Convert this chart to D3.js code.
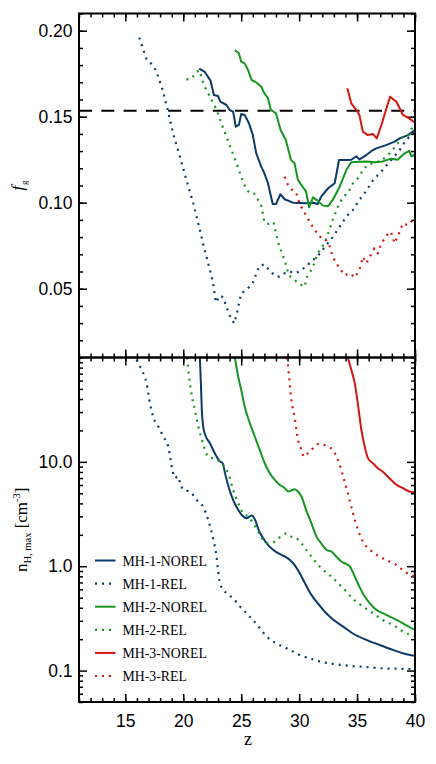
<!DOCTYPE html>
<html><head><meta charset="utf-8">
<script src="https://cdn.jsdelivr.net/npm/d3@7"></script>
<style>
html,body{margin:0;padding:0;background:#fff;}
svg{display:block;}
.tick text{font-family:"Liberation Sans",Arial,sans-serif;font-size:17.5px;fill:#000;}
</style></head>
<body><svg id="c" width="436" height="764"></svg>
<script>
// ---------------- data ----------------
const seriesNames = ["MH-1-NOREL","MH-1-REL","MH-2-NOREL","MH-2-REL","MH-3-NOREL","MH-3-REL"];
const seriesColors = ["#0b3a68","#0b3a68","#16951f","#16951f","#d1170f","#d1170f"];
const seriesDotted = [false,true,false,true,false,true];

// top panel: gas fraction f_g vs z  ([z, f_g])
const fg_MH1_NOREL = [[21.37,0.178],[21.86,0.176],[22.35,0.171],[22.64,0.1626],[23.0,0.162],[23.2,0.1587],[23.73,0.1568],[24.0,0.1539],[24.3,0.153],[24.53,0.1442],[24.8,0.1452],[25.0,0.1516],[25.3,0.151],[25.68,0.146],[26.0,0.1394],[26.3,0.1287],[26.73,0.121],[27.0,0.117],[27.3,0.1116],[27.72,0.0992],[28.0,0.0992],[28.38,0.1049],[28.75,0.102],[29.47,0.100],[30.6,0.0997],[31.2,0.100],[31.6,0.0992],[31.9,0.1035],[32.5,0.1084],[33.07,0.1113],[33.44,0.1248],[34.07,0.1248],[34.5,0.125],[34.93,0.127],[35.2,0.1252],[35.8,0.1277],[36.37,0.1306],[36.66,0.1316],[37.5,0.1335],[38.24,0.1355],[38.67,0.1374],[39.4,0.1393],[40.0,0.1423]];
const fg_MH1_REL = [[16.2,0.196],[16.83,0.1834],[17.1,0.182],[17.64,0.177],[18.2,0.166],[18.65,0.154],[19.13,0.140],[19.7,0.127],[20.28,0.113],[20.85,0.100],[21.37,0.086],[21.77,0.0744],[22.23,0.0628],[22.58,0.053],[22.81,0.042],[23.16,0.046],[23.44,0.045],[23.96,0.035],[24.4,0.0298],[24.7,0.038],[25.0,0.0473],[25.4,0.049],[25.98,0.053],[26.55,0.063],[26.98,0.0642],[27.4,0.061],[27.9,0.0575],[28.3,0.057],[28.75,0.059],[29.2,0.060],[29.6,0.059],[30.05,0.060],[30.6,0.063],[31.2,0.0666],[31.8,0.0705],[32.35,0.0754],[32.9,0.080],[33.5,0.086],[34.08,0.092],[34.65,0.0958],[35.2,0.1016],[35.8,0.107],[36.37,0.113],[37.2,0.119],[38.1,0.126],[38.67,0.1306],[39.25,0.1365],[39.8,0.140],[40.0,0.141]];
const fg_MH2_NOREL = [[24.45,0.1888],[24.8,0.1869],[25.0,0.182],[25.3,0.181],[25.6,0.177],[25.9,0.1713],[26.3,0.170],[26.73,0.1674],[27.0,0.1636],[27.3,0.161],[27.55,0.154],[28.0,0.152],[28.4,0.1423],[28.85,0.1365],[29.3,0.1248],[29.6,0.123],[29.9,0.1132],[30.3,0.1093],[30.6,0.1064],[30.86,0.0973],[31.2,0.1031],[31.6,0.1012],[32.06,0.0983],[32.5,0.098],[32.9,0.1016],[33.5,0.1093],[34.07,0.119],[34.5,0.1235],[35.2,0.1238],[35.8,0.124],[36.5,0.1235],[37.2,0.124],[37.95,0.1256],[38.5,0.125],[39.1,0.1287],[39.5,0.1302],[39.7,0.127],[40.0,0.128]];
const fg_MH2_REL = [[20.28,0.1717],[20.7,0.172],[21.14,0.176],[21.4,0.177],[21.7,0.170],[22.0,0.1655],[22.43,0.160],[22.87,0.154],[23.3,0.146],[23.73,0.1384],[24.16,0.1306],[24.6,0.123],[25.0,0.115],[25.46,0.1074],[25.8,0.1055],[26.1,0.1055],[26.46,0.1016],[26.76,0.0977],[27.0,0.0884],[27.4,0.0876],[27.8,0.0886],[28.0,0.0822],[28.3,0.0744],[28.75,0.0665],[29.1,0.0579],[29.5,0.0555],[30.0,0.0531],[30.45,0.051],[30.7,0.057],[31.2,0.0628],[31.6,0.0706],[32.2,0.0764],[32.5,0.0822],[32.9,0.090],[33.35,0.0977],[33.8,0.1035],[34.2,0.1055],[34.65,0.1113],[35.2,0.1151],[35.5,0.119],[35.9,0.1219],[36.5,0.1235],[37.0,0.124],[37.5,0.1267],[37.95,0.1297],[38.5,0.1345],[38.96,0.1384],[39.4,0.139],[39.8,0.1442],[40.0,0.145]];
const fg_MH3_NOREL = [[34.16,0.1665],[34.5,0.1578],[34.93,0.154],[35.2,0.151],[35.5,0.1413],[35.9,0.1394],[36.37,0.140],[36.7,0.1374],[37.1,0.1452],[37.5,0.154],[37.85,0.1616],[38.4,0.1587],[38.96,0.151],[39.5,0.149],[40.0,0.1465]];
const fg_MH3_REL = [[28.75,0.1151],[29.04,0.1103],[29.4,0.1074],[29.76,0.1055],[30.05,0.0992],[30.5,0.0938],[30.9,0.089],[31.35,0.0841],[31.8,0.0802],[32.2,0.0793],[32.6,0.0754],[32.9,0.0686],[33.2,0.0648],[33.5,0.0619],[33.93,0.0578],[34.36,0.059],[34.8,0.0565],[35.2,0.0609],[35.5,0.0686],[35.8,0.0648],[36.1,0.0686],[36.5,0.0735],[36.8,0.0706],[37.1,0.0764],[37.5,0.0802],[37.75,0.0831],[37.95,0.0825],[38.24,0.0764],[38.5,0.0802],[38.96,0.088],[39.4,0.0869],[39.8,0.0899],[40.0,0.091]];

// bottom panel: n_H,max [cm^-3] vs z  ([z, n])
const nh_MH1_NOREL = [[21.4,120],[21.52,56.8],[21.6,31.5],[21.72,21.8],[21.95,17.5],[22.3,15.1],[22.72,12.1],[23.16,10.1],[23.4,9.7],[23.6,7.8],[23.9,5.81],[24.3,4.33],[24.74,3.47],[25.17,2.99],[25.45,2.88],[25.9,3.06],[26.2,2.78],[26.5,2.23],[26.9,1.85],[27.3,1.60],[27.75,1.44],[28.3,1.31],[28.76,1.24],[29.2,1.15],[29.6,1.03],[30.05,0.857],[30.5,0.687],[31.06,0.531],[31.6,0.442],[32.2,0.368],[32.9,0.310],[33.8,0.264],[34.6,0.228],[35.8,0.197],[36.95,0.176],[38.1,0.158],[39.1,0.145],[40.0,0.138]];
const nh_MH1_REL = [[15.97,95],[16.4,76.2],[16.83,56.8],[17.12,36.5],[17.4,27.2],[17.84,21.8],[18.27,17.5],[18.7,14.0],[19.1,8.0],[19.3,7.0],[19.5,7.3],[19.75,6.2],[20.0,5.4],[20.57,5.2],[21.14,4.33],[21.7,3.73],[22.15,2.78],[22.6,1.79],[22.87,1.24],[23.0,0.92],[23.16,0.687],[23.73,0.551],[24.3,0.493],[24.9,0.410],[25.45,0.355],[26.0,0.306],[26.6,0.255],[27.2,0.212],[27.75,0.190],[28.3,0.176],[28.9,0.164],[29.5,0.152],[30.05,0.141],[30.9,0.131],[31.8,0.122],[32.9,0.116],[34.36,0.111],[35.8,0.108],[37.2,0.105],[38.67,0.104],[39.8,0.103],[40.0,0.103]];
const nh_MH2_NOREL = [[24.45,100],[24.74,65.8],[25.0,49.0],[25.3,33.9],[25.74,23.5],[26.17,17.5],[26.6,13.0],[27.03,9.7],[27.47,7.78],[27.9,6.71],[28.3,6.03],[28.76,5.60],[29.05,5.20],[29.33,5.31],[29.6,5.47],[29.9,5.20],[30.2,4.66],[30.6,3.47],[31.06,2.58],[31.5,1.92],[31.9,1.66],[32.35,1.44],[32.8,1.38],[33.2,1.24],[33.64,1.11],[34.07,1.05],[34.36,1.0],[34.8,0.796],[35.2,0.638],[35.66,0.512],[36.1,0.442],[36.5,0.395],[37.2,0.355],[38.1,0.318],[38.96,0.284],[40.0,0.245]];
const nh_MH2_REL = [[20.34,100],[20.5,65.8],[20.7,45.5],[21.0,31.5],[21.3,21.8],[21.7,15.1],[22.15,11.2],[22.6,10.8],[23.0,10.4],[23.44,9.35],[23.87,7.78],[24.3,5.40],[24.74,4.02],[25.17,3.22],[25.6,2.99],[26.03,2.58],[26.46,2.15],[26.9,1.79],[27.3,1.66],[27.75,1.69],[28.2,1.85],[28.6,1.99],[28.9,2.07],[29.33,1.92],[29.76,1.85],[30.2,1.66],[30.6,1.44],[31.06,1.24],[31.5,1.07],[31.9,0.957],[32.5,0.845],[33.07,0.740],[33.8,0.615],[34.6,0.493],[35.5,0.410],[36.37,0.355],[37.2,0.306],[38.1,0.274],[38.96,0.237],[40.0,0.212]];
const nh_MH3_NOREL = [[34.2,100],[34.5,76.2],[34.8,56.8],[35.1,33.9],[35.37,20.3],[35.66,14.0],[35.95,10.8],[36.37,9.7],[36.8,8.69],[37.2,8.07],[37.8,6.97],[38.4,6.03],[38.96,5.60],[39.5,5.20],[40.0,5.11]];
const nh_MH3_REL = [[28.96,100],[29.13,65.8],[29.33,39.3],[29.6,27.2],[29.9,16.3],[30.2,13.0],[30.4,11.2],[30.77,12.1],[31.2,13.5],[31.6,14.8],[32.06,14.6],[32.5,14.0],[32.9,13.0],[33.36,10.4],[33.8,7.23],[34.2,5.01],[34.65,3.22],[35.08,2.23],[35.5,1.72],[36.1,1.44],[36.66,1.29],[37.5,1.15],[38.4,1.03],[39.1,0.889],[40.0,0.796]];

const fgSeries = [fg_MH1_NOREL,fg_MH1_REL,fg_MH2_NOREL,fg_MH2_REL,fg_MH3_NOREL,fg_MH3_REL];
const nhSeries = [nh_MH1_NOREL,nh_MH1_REL,nh_MH2_NOREL,nh_MH2_REL,nh_MH3_NOREL,nh_MH3_REL];

const baryonFraction = 0.1535;
const zTicksMajor = [15,20,25,30,35,40];
const fgTicksMajor = [0.05,0.10,0.15,0.20];
const nhTicksMajor = [0.1,1,10];
const nhTickLabels = ["0.1","1.0","10.0"];

// ---------------- layout ----------------
const L = 79, R = 415, T1 = 13.5, B1 = 357.5, T2 = 357.5, B2 = 702;
const svg = d3.select("#c");

const x = d3.scaleLinear().domain([11,40]).range([L,R]);
const y1 = d3.scaleLinear().domain([0.01,0.21]).range([B1,T1]);
const y2 = d3.scaleLog().domain([0.05,100]).range([B2,T2]);

const zMinor = d3.range(11,41,1);
const fgMinor = d3.range(1,22).map(d=>d/100);
const nhMinor = [];
[0.01,0.1,1,10].forEach(dec=>{for(let k=2;k<=9;k++){const v=+(dec*k).toPrecision(3); if(v>=0.05&&v<=100) nhMinor.push(v);}});

const defs = svg.append("defs");
defs.append("clipPath").attr("id","cp1").append("rect").attr("x",L).attr("y",T1).attr("width",R-L).attr("height",B1-T1);
defs.append("clipPath").attr("id","cp2").append("rect").attr("x",L).attr("y",T2).attr("width",R-L).attr("height",B2-T2);

function styleAxis(g){
  g.select(".domain").remove();
  g.selectAll(".tick line").attr("stroke","#000").attr("stroke-width",1.5);
}
function addAxis(axis, tx, ty){
  const g = svg.append("g").attr("transform",`translate(${tx},${ty})`).call(axis);
  styleAxis(g);
  return g;
}
const MAJ = -8, MIN = -4;

// top panel axes
addAxis(d3.axisLeft(y1).tickValues(fgMinor).tickSize(MIN).tickFormat(""), L, 0);
addAxis(d3.axisLeft(y1).tickValues(fgTicksMajor).tickSize(MAJ).tickPadding(6.5).tickFormat(d3.format(".2f")), L, 0);
addAxis(d3.axisRight(y1).tickValues(fgMinor).tickSize(MIN).tickFormat(""), R, 0);
addAxis(d3.axisRight(y1).tickValues(fgTicksMajor).tickSize(MAJ).tickFormat(""), R, 0);
addAxis(d3.axisTop(x).tickValues(zMinor).tickSize(MIN).tickFormat(""), 0, T1);
addAxis(d3.axisTop(x).tickValues(zTicksMajor).tickSize(MAJ).tickFormat(""), 0, T1);
addAxis(d3.axisBottom(x).tickValues(zMinor).tickSize(MIN).tickFormat(""), 0, B1);
addAxis(d3.axisBottom(x).tickValues(zTicksMajor).tickSize(MAJ).tickFormat(""), 0, B1);

// bottom panel axes
addAxis(d3.axisLeft(y2).tickValues(nhMinor).tickSize(MIN).tickFormat(""), L, 0);
addAxis(d3.axisLeft(y2).tickValues(nhTicksMajor).tickSize(MAJ).tickPadding(6.5).tickFormat((d,i)=>nhTickLabels[i]), L, 0);
addAxis(d3.axisRight(y2).tickValues(nhMinor).tickSize(MIN).tickFormat(""), R, 0);
addAxis(d3.axisRight(y2).tickValues(nhTicksMajor).tickSize(MAJ).tickFormat(""), R, 0);
addAxis(d3.axisTop(x).tickValues(zMinor).tickSize(MIN).tickFormat(""), 0, T2);
addAxis(d3.axisTop(x).tickValues(zTicksMajor).tickSize(MAJ).tickFormat(""), 0, T2);
addAxis(d3.axisBottom(x).tickValues(zMinor).tickSize(MIN).tickFormat(""), 0, B2);
addAxis(d3.axisBottom(x).tickValues(zTicksMajor).tickSize(MAJ).tickPadding(12.3).tickFormat(d3.format("d")), 0, B2);

// dashed baryon fraction line
svg.append("line").attr("clip-path","url(#cp1)")
  .attr("x1",x(11)).attr("x2",x(40)).attr("y1",y1(baryonFraction)).attr("y2",y1(baryonFraction))
  .attr("stroke","#000").attr("stroke-width",2).attr("stroke-dasharray","13,9.3");

// curves
const line1 = d3.line().x(d=>x(d[0])).y(d=>y1(d[1]));
const line2 = d3.line().x(d=>x(d[0])).y(d=>y2(d[1])).curve(d3.curveMonotoneX);
function drawSeries(data, gen, clip, i){
  svg.append("path").datum(data).attr("clip-path",clip)
    .attr("d",gen).attr("fill","none").attr("stroke",seriesColors[i])
    .attr("stroke-width",seriesDotted[i]?2.2:2)
    .attr("stroke-linejoin","round")
    .attr("stroke-dasharray",seriesDotted[i]?"2,5":null);
}
fgSeries.forEach((s,i)=>drawSeries(s,line1,"url(#cp1)",i));
nhSeries.forEach((s,i)=>drawSeries(s,line2,"url(#cp2)",i));

// frames
svg.append("rect").attr("x",L).attr("y",T1).attr("width",R-L).attr("height",B1-T1).attr("fill","none").attr("stroke","#000").attr("stroke-width",2);
svg.append("rect").attr("x",L).attr("y",T2).attr("width",R-L).attr("height",B2-T2).attr("fill","none").attr("stroke","#000").attr("stroke-width",2);

// legend
const legY0 = 560.5, legDY = 23.1;
const leg = svg.append("g");
seriesNames.forEach((n,i)=>{
  const yy = legY0 + i*legDY;
  leg.append("line").attr("x1",95).attr("x2",115.5).attr("y1",yy).attr("y2",yy)
    .attr("stroke",seriesColors[i]).attr("stroke-width",seriesDotted[i]?2.2:2)
    .attr("stroke-dasharray",seriesDotted[i]?"2,5":null);
  leg.append("text").attr("x",122.5).attr("y",yy+5).text(n)
    .attr("font-family","'Liberation Serif','Times New Roman',serif").attr("font-size",13.8).attr("fill","#000");
});

// axis titles
svg.append("text").attr("x",(L+R)/2+1).attr("y",745).attr("text-anchor","middle")
  .attr("font-family","'Liberation Serif','Times New Roman',serif").attr("font-size",18).text("z");

const ft = svg.append("text").attr("transform",`translate(23,${(T1+B1)/2}) rotate(-90)`).attr("text-anchor","middle")
  .attr("font-family","'Liberation Serif','Times New Roman',serif").attr("font-size",17);
ft.append("tspan").attr("font-style","italic").text("f");
ft.append("tspan").attr("font-size",9).attr("dy",4).attr("dx",1).text("g");

const nt = svg.append("text").attr("transform",`translate(27,${(T2+B2)/2}) rotate(-90)`).attr("text-anchor","middle")
  .attr("font-family","'Liberation Serif','Times New Roman',serif").attr("font-size",17);
nt.append("tspan").text("n");
nt.append("tspan").attr("font-size",10.5).attr("dy",4).text("H, max");
nt.append("tspan").attr("dy",-4).text(" [cm");
nt.append("tspan").attr("font-size",10.5).attr("dy",-7).text("-3");
nt.append("tspan").attr("dy",7).text("]");
</script></body></html>
